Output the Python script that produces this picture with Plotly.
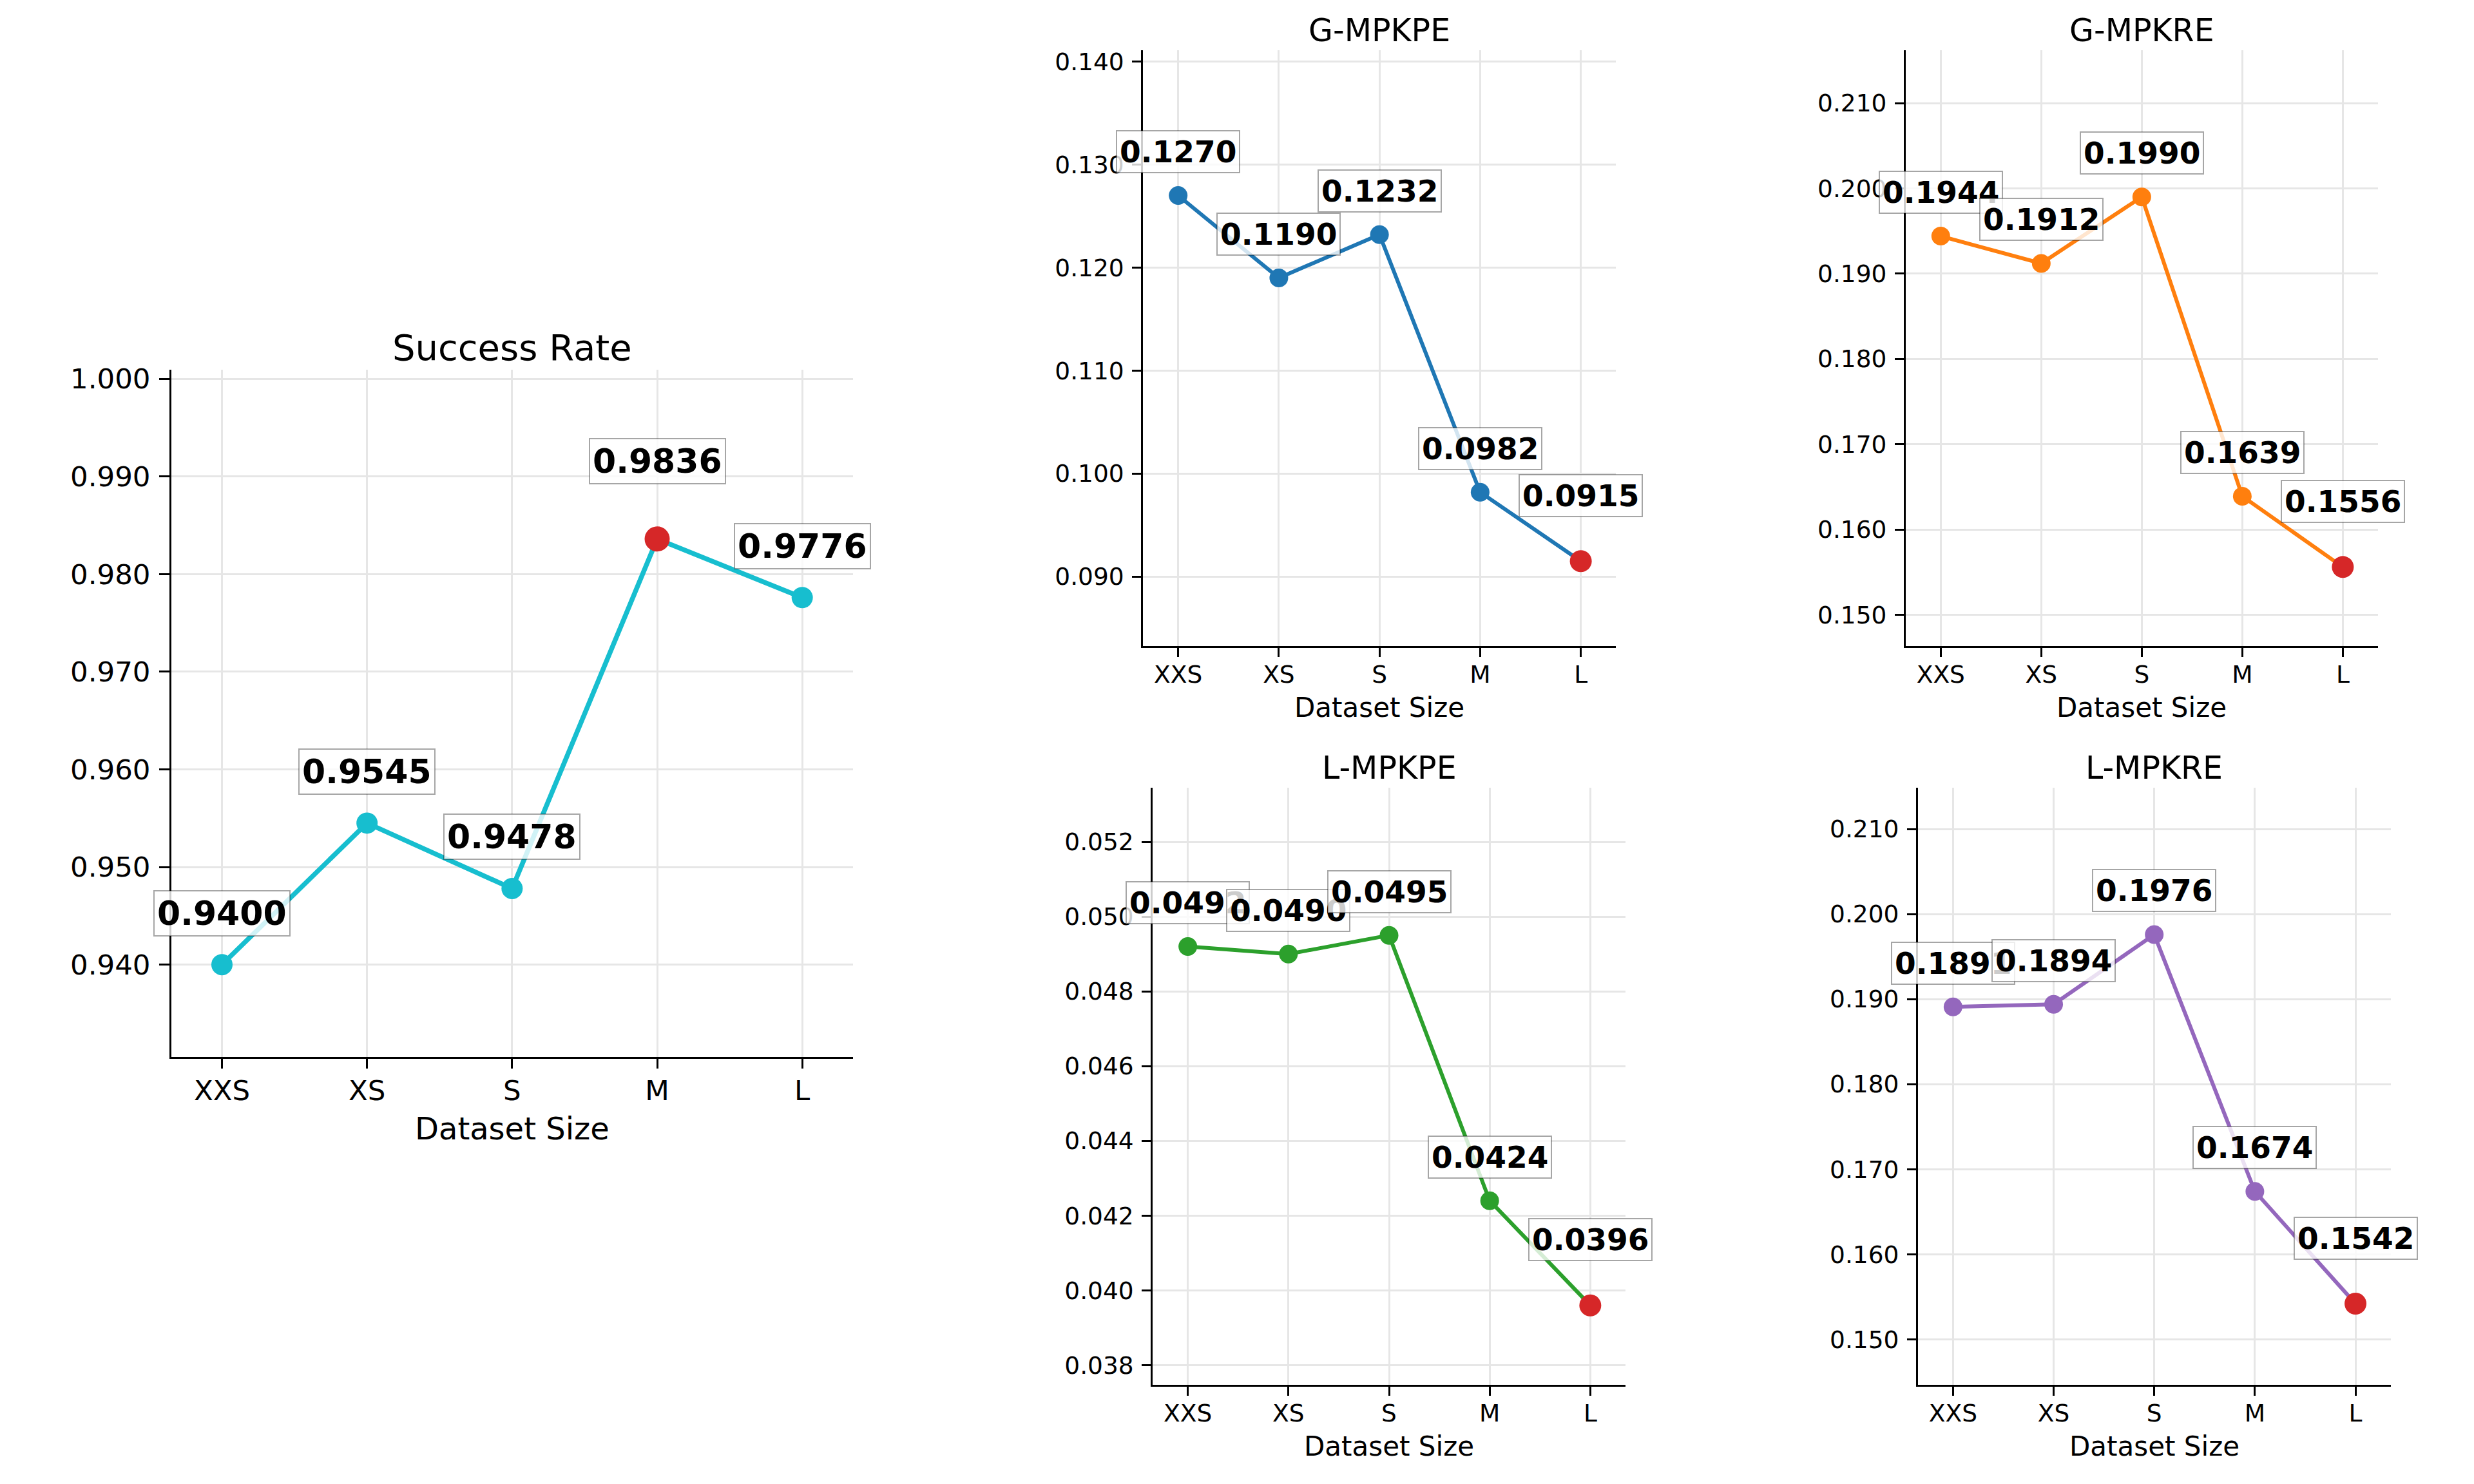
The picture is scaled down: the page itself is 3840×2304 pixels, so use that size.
import plotly.graph_objects as go

# ---------------- data ----------------
categories = ["XXS", "XS", "S", "M", "L"]
success_rate = [0.9400, 0.9545, 0.9478, 0.9836, 0.9776]
g_mpkpe = [0.1270, 0.1190, 0.1232, 0.0982, 0.0915]
g_mpkre = [0.1944, 0.1912, 0.1990, 0.1639, 0.1556]
l_mpkpe = [0.0492, 0.0490, 0.0495, 0.0424, 0.0396]
l_mpkre = [0.1891, 0.1894, 0.1976, 0.1674, 0.1542]

panel_titles = ["Success Rate", "G-MPKPE", "G-MPKRE", "L-MPKPE", "L-MPKRE"]
panel_values = [success_rate, g_mpkpe, g_mpkre, l_mpkpe, l_mpkre]
panel_colors = ["#17becf", "#1f77b4", "#ff7f0e", "#2ca02c", "#9467bd"]
higher_is_better = [True, False, False, False, False]
x_label = "Dataset Size"
best_color = "#d62728"

W, H = 3840, 2304
DY = -5  # small vertical correction of the whole layout

# layout (pixel boxes of each plotting area: left, right, top, bottom)
boxes = [
    (265.7, 1324, 571 + DY, 1642.7 + DY),
    (1774, 2508.3, 72.3 + DY, 1001.7 + DY),
    (2957.7, 3691, 72.3 + DY, 1001.7 + DY),
    (1789, 2523, 1223.3 + DY, 2154 + DY),
    (2976.7, 3710.7, 1223.3 + DY, 2154 + DY),
]
y_ranges = [
    (0.93055, 1.00092),
    (0.08327, 0.1411),
    (0.14634, 0.2162),
    (0.03748, 0.05344),
    (0.14468, 0.21483),
]
y_dticks = [0.01, 0.01, 0.01, 0.002, 0.01]
y_tick0 = [0.94, 0.09, 0.15, 0.038, 0.15]

big = dict(tick=43.5, title=56, xlab=48, ann=52, lw=7.5, ms=33, ms_best=39,
           off=80, off_best=121, axlw=3, ticklen=15.5, xlab_shift=-81, xstand=-4)
small = dict(tick=37.5, title=49, xlab=42, ann=47, lw=6, ms=29, ms_best=34,
             off=68, off_best=102, axlw=2.6, ticklen=14, xlab_shift=-69, xstand=-5)

FONT = "DejaVu Sans"
fig = go.Figure()
annotations = []

for i in range(5):
    s = big if i == 0 else small
    ax = "" if i == 0 else str(i + 1)
    xref, yref = "x" + ax, "y" + ax
    vals = panel_values[i]
    best = vals.index(max(vals)) if higher_is_better[i] else vals.index(min(vals))

    fig.add_trace(go.Scatter(
        x=categories, y=vals, mode="lines+markers",
        line=dict(color=panel_colors[i], width=s["lw"]),
        marker=dict(color=panel_colors[i], size=s["ms"]),
        xaxis=xref, yaxis=yref, showlegend=False, hoverinfo="skip"))
    fig.add_trace(go.Scatter(
        x=[categories[best]], y=[vals[best]], mode="markers",
        marker=dict(color=best_color, size=s["ms_best"]),
        xaxis=xref, yaxis=yref, showlegend=False, hoverinfo="skip"))

    l, r, t, b = boxes[i]
    axis_common = dict(
        showline=True, linecolor="black", linewidth=s["axlw"], mirror=False,
        ticks="outside", ticklen=s["ticklen"], tickwidth=s["axlw"], tickcolor="black",
        showgrid=True, gridcolor="#e6e6e6", gridwidth=2.5, zeroline=False,
        tickfont=dict(family=FONT, size=s["tick"], color="black"),
    )
    fig.layout["xaxis" + ax] = dict(
        axis_common, domain=[l / W, r / W], anchor=yref, type="category",
        range=[-0.35, len(categories) - 1 + 0.35], fixedrange=True,
        ticklabelstandoff=s["xstand"])
    fig.layout["yaxis" + ax] = dict(
        axis_common, domain=[1 - b / H, 1 - t / H], anchor=xref,
        range=list(y_ranges[i]), tick0=y_tick0[i], dtick=y_dticks[i],
        tickformat=".3f", fixedrange=True, ticklabelstandoff=5)

    # panel title
    annotations.append(dict(
        text=panel_titles[i], xref=xref + " domain", yref=yref + " domain",
        x=0.5, y=1, xanchor="center", yanchor="bottom", yshift=0,
        showarrow=False, font=dict(family=FONT, size=s["title"], color="black")))
    # x-axis label
    annotations.append(dict(
        text=x_label, xref=xref + " domain", yref=yref + " domain",
        x=0.5, y=0, xanchor="center", yanchor="top", yshift=s["xlab_shift"],
        showarrow=False, font=dict(family=FONT, size=s["xlab"], color="black")))
    # value labels
    for j, (c, v) in enumerate(zip(categories, vals)):
        annotations.append(dict(
            text="<b>%.4f</b>" % v, x=c, y=v, xref=xref, yref=yref,
            xanchor="center", yanchor="middle",
            yshift=s["off_best"] if j == best else s["off"],
            showarrow=False, bgcolor="rgba(255,255,255,0.8)",
            bordercolor="rgba(0,0,0,0.35)", borderwidth=2, borderpad=4,
            font=dict(family=FONT, size=s["ann"], color="black")))

fig.update_layout(
    width=W, height=H, margin=dict(l=0, r=0, t=0, b=0),
    paper_bgcolor="white", plot_bgcolor="white",
    annotations=annotations, font=dict(family=FONT),
)

fig.write_html("out.html")
